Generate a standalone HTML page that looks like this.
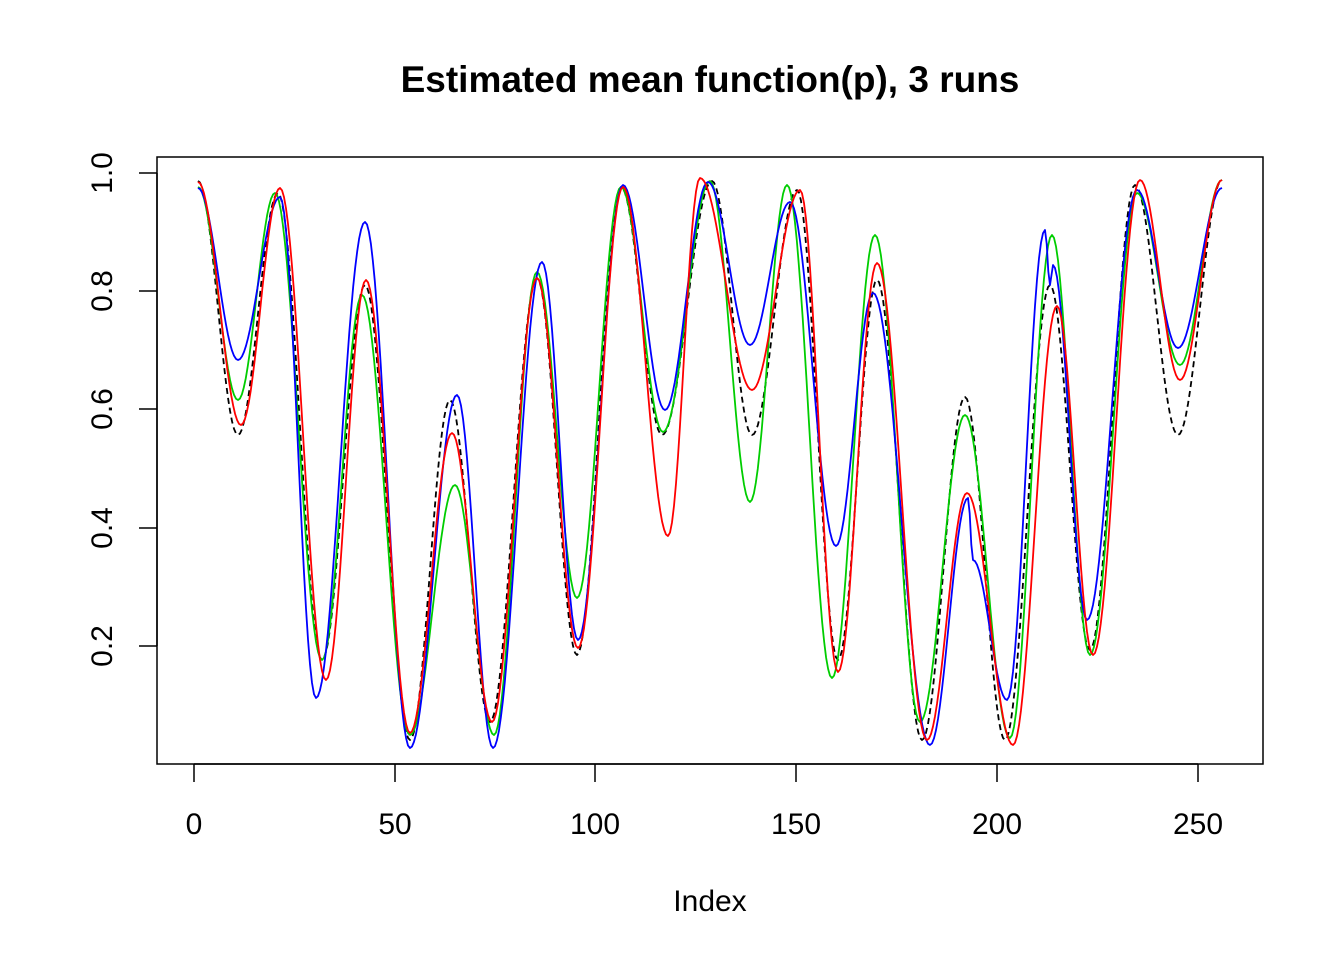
<!DOCTYPE html>
<html><head><meta charset="utf-8"><style>body{margin:0;background:#fff}svg{display:block}</style></head>
<body>
<svg id="s" width="1344" height="960" xmlns="http://www.w3.org/2000/svg" font-family="Liberation Sans, sans-serif">
<rect width="1344" height="960" fill="#fff"/>
<text x="710" y="92" font-size="37" font-weight="bold" text-anchor="middle">Estimated mean function(p), 3 runs</text>
<rect x="157" y="157" width="1106" height="607" fill="none" stroke="#000" stroke-width="1.5"/>
<g stroke="#000" stroke-width="1.5">
<line x1="194" y1="764" x2="1198" y2="764"/>
<line x1="194" y1="764" x2="194" y2="782"/><line x1="395" y1="764" x2="395" y2="782"/><line x1="595" y1="764" x2="595" y2="782"/><line x1="796" y1="764" x2="796" y2="782"/><line x1="997" y1="764" x2="997" y2="782"/><line x1="1198" y1="764" x2="1198" y2="782"/>
<line x1="157" y1="173" x2="157" y2="646"/>
<line x1="157" y1="173" x2="139" y2="173"/><line x1="157" y1="291" x2="139" y2="291"/><line x1="157" y1="409" x2="139" y2="409"/><line x1="157" y1="528" x2="139" y2="528"/><line x1="157" y1="646" x2="139" y2="646"/>
</g>
<g font-size="30" text-anchor="middle">
<text x="194" y="834">0</text><text x="395" y="834">50</text><text x="595" y="834">100</text><text x="796" y="834">150</text><text x="997" y="834">200</text><text x="1198" y="834">250</text>
<text x="710" y="911">Index</text>
<text transform="translate(112,173) rotate(-90)">1.0</text>
<text transform="translate(112,291) rotate(-90)">0.8</text>
<text transform="translate(112,409) rotate(-90)">0.6</text>
<text transform="translate(112,528) rotate(-90)">0.4</text>
<text transform="translate(112,646) rotate(-90)">0.2</text>
</g>
<g id="curves" fill="none" stroke-width="1.8"></g>
</svg>
<script>
var S={
k:[[198,181],[238,435],[278,193],[322,660],[365,285],[410,740],[450,400],[490,722],[537,278],[577,655],[621,187],[662,435],[712,181],[752,435],[797,190],[838,660],[877,280],[922,740],[965,397],[1005,740],[1050,285],[1090,650],[1135,185],[1178,435],[1222,180]],
g:[[198,187],[238,400],[275,193],[322,660],[362,295],[410,735],[455,485],[494,735],[537,272],[577,598],[621,187],[663,432],[710,181],[750,502],[787,185],[832,678],[875,235],[920,722],[965,415],[1010,738],[1052,235],[1090,655],[1137,193],[1180,365],[1222,180]],
b:[[198,188],[238,360],[280,197],[316,698],[365,222],[410,748],[457,395],[493,748],[542,262],[578,640],[623,185],[665,410],[708,182],[750,345],[790,202],[836,546],[873,293],[930,745],[968,498],[973,560],[1007,700],[1045,230],[1050,285],[1053,265],[1087,620],[1137,190],[1178,348],[1222,188]],
r:[[198,182],[241,425],[280,188],[326,680],[366,280],[410,733],[452,433],[492,722],[537,278],[578,648],[623,187],[668,536],[700,178],[752,390],[800,190],[838,672],[877,263],[927,740],[967,493],[1013,745],[1057,306],[1093,655],[1140,180],[1180,380],[1222,180]]};
function path(p){var d="M"+p[0][0]+","+p[0][1];for(var i=0;i<p.length-1;i++){var a=p[i],b=p[i+1];var n=Math.max(2,Math.round((b[0]-a[0])/2));for(var j=1;j<=n;j++){var t=j/n;var y=a[1]+(b[1]-a[1])*(1-Math.cos(Math.PI*t))/2;d+=" L"+(a[0]+(b[0]-a[0])*t).toFixed(1)+","+y.toFixed(1);}}return d;}
var cfg=[["k","#000","6,4"],["g","#00cd00",""],["b","#0000ff",""],["r","#ff0000",""]];
var g=document.getElementById("curves");
cfg.forEach(function(c){var e=document.createElementNS("http://www.w3.org/2000/svg","path");e.setAttribute("d",path(S[c[0]]));e.setAttribute("stroke",c[1]);e.setAttribute("stroke-linejoin","round");if(c[2])e.setAttribute("stroke-dasharray",c[2]);g.appendChild(e);});
</script>
</body></html>
